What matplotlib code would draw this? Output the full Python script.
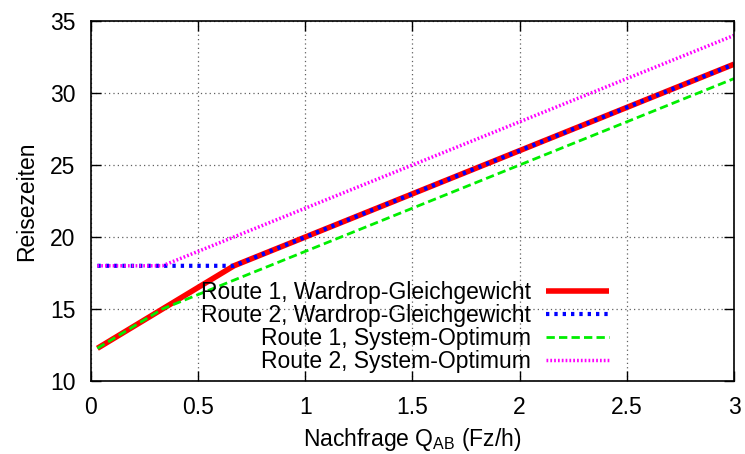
import matplotlib
matplotlib.use('Agg')
import matplotlib.pyplot as plt

plt.rcParams['font.family'] = ['Liberation Sans', 'DejaVu Sans']

# Nachfrage (Fz/h) an den Knickpunkten und Reisezeiten je Route
q_wardrop = [0.03, 0.667, 3.0]
r1_wardrop = [12.27, 18.0, 32.0]
r2_wardrop = [18.0, 18.0, 32.0]

q_system = [0.03, 0.333, 3.0]
r1_system = [12.27, 15.0, 31.0]
r2_system = [18.0, 18.0, 34.0]

labels = ['Route 1, Wardrop-Gleichgewicht', 'Route 2, Wardrop-Gleichgewicht',
          'Route 1, System-Optimum', 'Route 2, System-Optimum']

xticks = [0, 0.5, 1, 1.5, 2, 2.5, 3]
yticks = [10, 15, 20, 25, 30, 35]

fs = 16.5

fig = plt.figure(figsize=(7.45, 4.54), dpi=100)
ax = fig.add_axes([0.1221, 0.1608, 0.8631, 0.7929])

ax.plot(q_wardrop, r1_wardrop, color='#ff0000', lw=4, solid_capstyle='butt', label=labels[0])
ax.plot(q_wardrop, r2_wardrop, color='#0000ff', lw=3, linestyle=(0, (0.8, 1.2)), label=labels[1])
ax.plot(q_system, r1_system, color='#00ee00', lw=2, linestyle=(0, (3, 1.5)), label=labels[2])
ax.plot(q_system, r2_system, color='#ff00ff', lw=2.5, linestyle=(0, (0.5, 0.6)), label=labels[3])

ax.set_xlim(0, 3)
ax.set_ylim(10, 35)
ax.set_xticks(xticks)
ax.set_xticklabels([f'{t:g}' for t in xticks])
ax.set_yticks(yticks)
ax.tick_params(direction='in', length=7, width=1, top=True, right=True,
               labelsize=fs, pad=11)
ax.grid(True, color='#606060', linestyle=(0, (1, 2.5)), linewidth=0.9)
for s in ax.spines.values():
    s.set_linewidth(1.2)

ax.set_xlabel('Nachfrage Q$_\\mathregular{AB}$ (Fz/h)', fontsize=fs, labelpad=5)
ax.set_ylabel('Reisezeiten', fontsize=fs, labelpad=9)

leg = ax.legend(loc='lower right', bbox_to_anchor=(0.806, 0.021), frameon=False,
                markerfirst=False, fontsize=fs, handlelength=2.75, handletextpad=0.65,
                labelspacing=0.0, borderpad=0, borderaxespad=0)
# gnuplot-artig: Texte rechtsbuendig
for col in leg._legend_box.get_children()[1].get_children():
    col.align = 'right'

plt.savefig('out.png', dpi=100)
